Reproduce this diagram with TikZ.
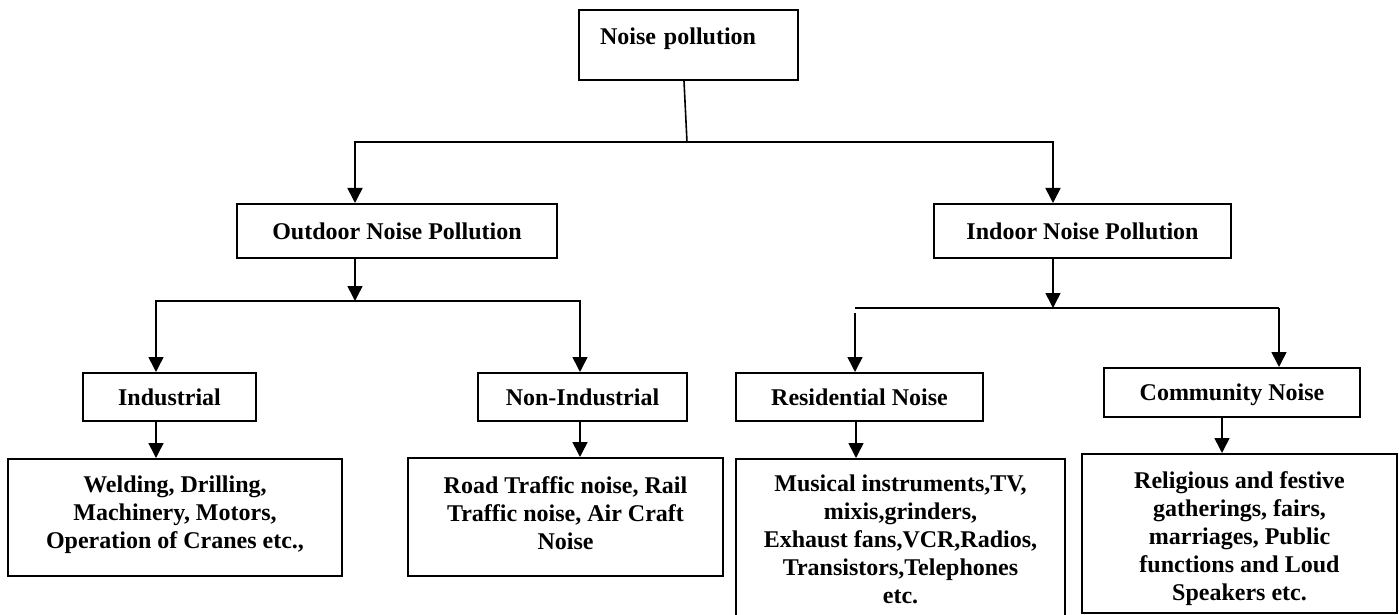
\documentclass[tikz,border=0pt]{standalone}
\usepackage{fontspec}
\setmainfont{Liberation Serif}
\usepackage{tikz}
\usetikzlibrary{arrows.meta}

\begin{document}
\begin{tikzpicture}[x=0.5pt,y=-0.5pt,
  box/.style={draw,line width=1pt,align=center,inner sep=0pt,
    font=\bfseries\fontsize{12pt}{14pt}\selectfont},
  cat/.style={box,text depth=0pt},
  arr/.style={line width=0.8pt,-{Triangle[length=7.5pt,width=7.5pt]}}]
\useasboundingbox (0,0) rectangle (1399,615);

\node[box,text width=88.5pt,inner xsep=10.5pt,align=left,minimum height=35pt,text depth=9pt] (noise) at (688.5,45) {Noise pollution};
\node[box,minimum width=160pt,minimum height=27pt] (outdoor) at (397,231) {Outdoor Noise Pollution};
\node[box,minimum width=148.5pt,minimum height=27pt] (indoor) at (1082.5,231) {Indoor Noise Pollution};
\node[cat,minimum width=86.5pt,minimum height=24pt] (industrial) at (169.5,397) {Industrial};
\node[cat,minimum width=104.5pt,minimum height=24pt] (nonind) at (582.5,397) {Non-Industrial};
\node[cat,minimum width=123.5pt,minimum height=24pt] (residential) at (859.5,397) {Residential Noise};
\node[cat,minimum width=128pt,minimum height=24.5pt] (community) at (1232,392.5) {Community Noise};
\node[box,minimum width=167pt,minimum height=58.5pt,text depth=5.4pt] (welding) at (175,517.5) {Welding, Drilling,\\Machinery, Motors,\\Operation of Cranes etc.,};
\node[box,minimum width=157.5pt,minimum height=59pt,text depth=3.9pt] (road) at (565.5,517) {Road Traffic noise, Rail\\Traffic noise, Air Craft\\Noise};
\node[box,minimum width=164.5pt,minimum height=80.5pt] (musical) at (900.5,539.5) {Musical instruments,TV,\\mixis,grinders,\\Exhaust fans,VCR,Radios,\\Transistors,Telephones\\etc.};
\node[box,minimum width=157.5pt,minimum height=79.5pt,text height=69.4pt] (religious) at (1239.5,533.5) {Religious and festive\\gatherings, fairs,\\marriages, Public\\functions and Loud\\Speakers etc.};

\coordinate (hub) at (687,142);
\coordinate (ohub) at (355,301);
\coordinate (ihub) at (1053,308);
\coordinate (ileft) at (855,308);
\coordinate (iright) at (1279,308);

\draw[line width=0.8pt] ([xshift=-2.25pt]noise.south) -- (hub);
\draw[arr] (hub) -| ([xshift=-21pt]outdoor.north);
\draw[arr] (hub) -| ([xshift=-14.75pt]indoor.north);

\draw[arr] ([xshift=-21pt]outdoor.south) -- (ohub);
\draw[arr] (ohub) -| ([xshift=-6.75pt]industrial.north);
\draw[arr] (ohub) -| ([xshift=-1.25pt]nonind.north);

\draw[arr] ([xshift=-14.75pt]indoor.south) -- (ihub);
\draw[line width=0.8pt] (ileft) -- (iright);
\draw[arr] ([yshift=-2.5pt]ileft) -- (ileft |- residential.north);
\draw[arr] (iright) -- (iright |- community.north);

\draw[arr] ([xshift=-6.75pt]industrial.south) -- ([xshift=-6.75pt]industrial.south |- welding.north);
\draw[arr] ([xshift=-1.25pt]nonind.south) -- ([xshift=-1.25pt]nonind.south |- road.north);
\draw[arr] ([xshift=-1.75pt]residential.south) -- ([xshift=-1.75pt]residential.south |- musical.north);
\draw[arr] ([xshift=-5pt]community.south) -- ([xshift=-5pt]community.south |- religious.north);
\end{tikzpicture}
\end{document}
